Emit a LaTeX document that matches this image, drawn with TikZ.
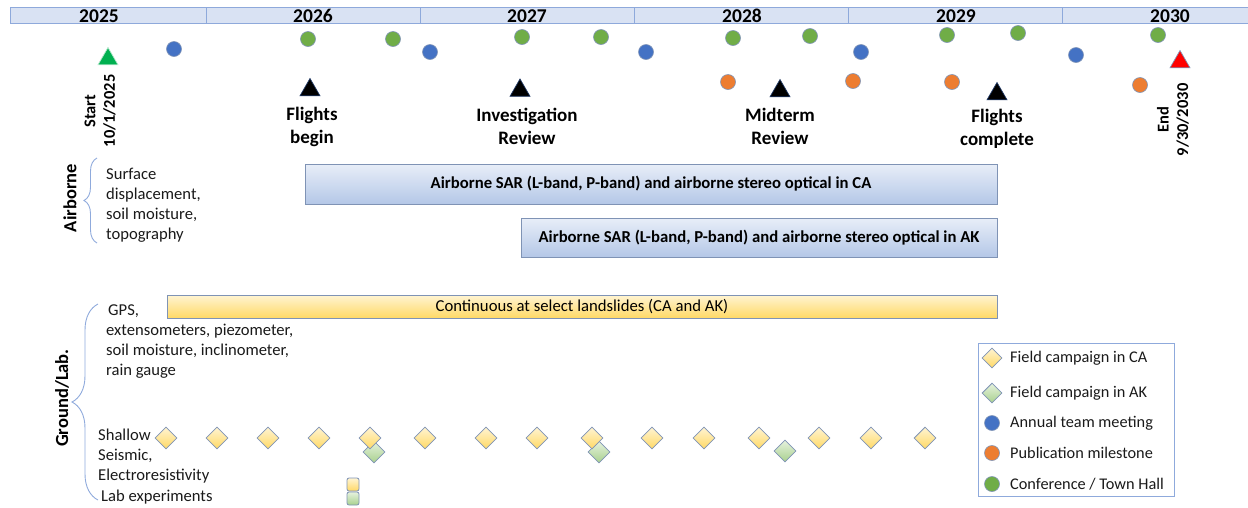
\documentclass[tikz,border=0pt]{standalone}
\usepackage{fontspec}
\setmainfont{Carlito}
\usetikzlibrary{shapes.geometric,decorations.pathreplacing}
\definecolor{yrfill}{HTML}{D9E2F3}
\definecolor{yrline}{HTML}{8EA9DB}
\definecolor{mblue}{HTML}{4472C4}
\definecolor{mgreen}{HTML}{70AD47}
\definecolor{morange}{HTML}{ED7D31}
\definecolor{tgreen}{HTML}{00B050}
\definecolor{tred}{HTML}{FF0000}
\definecolor{tline}{HTML}{1F3864}
\definecolor{mline}{HTML}{7F93B5}
\definecolor{abtop}{HTML}{E8EEF8}
\definecolor{abbot}{HTML}{B4C7E7}
\definecolor{ylwtop}{HTML}{FFF4D2}
\definecolor{ylwbot}{HTML}{FFD966}
\definecolor{grntop}{HTML}{E6F2DE}
\definecolor{grnbot}{HTML}{A9D18E}
\definecolor{brline}{HTML}{8FAADC}
\definecolor{txt}{HTML}{1A1A1A}
\begin{document}
\begin{tikzpicture}[x=1pt,y=-1pt,
  yearcell/.style={draw=yrline,fill=yrfill,line width=0.8pt,inner sep=0pt,minimum height=16pt},
  yearlbl/.style={font=\fontsize{19.5}{22}\selectfont\bfseries,inner sep=0pt},
  dot/.style={circle,minimum size=15pt,inner sep=0pt,draw=mline,line width=0.6pt},
  tri/.style={regular polygon,regular polygon sides=3,minimum size=23pt,inner sep=0pt,draw=tline,line width=0.7pt},
  mslbl/.style={font=\fontsize{19}{23}\selectfont\bfseries,align=center,inner sep=0pt},
  rotlbl/.style={font=\fontsize{16.5}{19.5}\selectfont\bfseries,align=center,inner sep=0pt,rotate=90},
  sidelbl/.style={font=\fontsize{18.5}{22}\selectfont\bfseries,inner sep=0pt,rotate=90},
  bodytxt/.style={font=\fontsize{16.6}{20}\selectfont,align=left,inner sep=0pt,text=txt},
  abar/.style={draw=mline,line width=0.8pt,top color=abtop,bottom color=abbot,inner sep=0pt,font=\fontsize{16.7}{18}\selectfont\bfseries},
  ybar/.style={draw=mline,line width=0.8pt,top color=ylwtop,bottom color=ylwbot,inner sep=0pt,font=\fontsize{16.7}{18}\selectfont},
  cadia/.style={diamond,minimum width=22pt,minimum height=22pt,inner sep=0pt,draw=mline,line width=0.8pt,top color=ylwtop,bottom color=ylwbot},
  akdia/.style={diamond,minimum width=22pt,minimum height=22pt,inner sep=0pt,draw=mline,line width=0.8pt,top color=grntop,bottom color=grnbot},
  labsq/.style={rectangle,rounded corners=2pt,minimum width=12pt,minimum height=13pt,inner sep=0pt,draw=mline,line width=0.8pt},
  brc/.style={draw=brline,line width=0.9pt,decorate},
  legtxt/.style={font=\fontsize{16.3}{19}\selectfont,anchor=west,inner sep=0pt,text=txt}
]
\useasboundingbox (0,0) rectangle (1248,507);

% year bar
\node[yearcell,minimum width=196pt] (c2025) at (108,15) {};
\node[yearcell,minimum width=214pt] (c2026) at (313,15) {};
\node[yearcell,minimum width=214pt] (c2027) at (527,15) {};
\node[yearcell,minimum width=214pt] (c2028) at (741,15) {};
\node[yearcell,minimum width=214pt] (c2029) at (955,15) {};
\node[yearcell,minimum width=186pt] (c2030) at (1155,15) {};
\node[yearlbl] (t2025) at (99,16) {2025};
\node[yearlbl] (t2026) at (313,16) {2026};
\node[yearlbl] (t2027) at (527,16) {2027};
\node[yearlbl] (t2028) at (742,16) {2028};
\node[yearlbl] (t2029) at (956,16) {2029};
\node[yearlbl] (t2030) at (1170,16) {2030};

% annual team meetings
\node[dot,fill=mblue] (b1) at (174,49) {};
\node[dot,fill=mblue] (b2) at (430,52) {};
\node[dot,fill=mblue] (b3) at (646,52) {};
\node[dot,fill=mblue] (b4) at (861,52) {};
\node[dot,fill=mblue] (b5) at (1076,55) {};
% conferences
\node[dot,fill=mgreen] (g1) at (308,39) {};
\node[dot,fill=mgreen] (g2) at (393,39) {};
\node[dot,fill=mgreen] (g3) at (522,37) {};
\node[dot,fill=mgreen] (g4) at (601,37) {};
\node[dot,fill=mgreen] (g5) at (733,38) {};
\node[dot,fill=mgreen] (g6) at (810,36) {};
\node[dot,fill=mgreen] (g7) at (947,35) {};
\node[dot,fill=mgreen] (g8) at (1018,33) {};
\node[dot,fill=mgreen] (g9) at (1158,35) {};
% publications
\node[dot,fill=morange] (o1) at (728,82) {};
\node[dot,fill=morange] (o2) at (853,81) {};
\node[dot,fill=morange] (o3) at (952,82) {};
\node[dot,fill=morange] (o4) at (1140,85) {};

% triangles
\node[tri,fill=tgreen,draw=white!70!tgreen] (start) at (108,59) {};
\node[tri,fill=tred,draw=mline] (end) at (1180,62) {};
\node[tri,fill=black] (m1) at (310,90) {};
\node[tri,fill=black] (m2) at (520,90.5) {};
\node[tri,fill=black] (m3) at (780,91) {};
\node[tri,fill=black] (m4) at (997,94) {};

\node[rotlbl] (startlbl) at (100,111) {Start\\10/1/2025};
\node[rotlbl] (endlbl) at (1173,120) {End\\9/30/2030};
\node[mslbl] (m1lbl) at (312,127) {Flights\\begin};
\node[mslbl] (m2lbl) at (527,126) {Investigation\\Review};
\node[mslbl] (m3lbl) at (780,126) {Midterm\\Review};
\node[mslbl] (m4lbl) at (997,129) {Flights\\complete};

% airborne section
\node[sidelbl] (airlbl) at (70,198) {Airborne};
\draw[brc,decoration={brace,amplitude=13pt}] (97,243) -- (97,158);
\node[bodytxt,anchor=west] (airtxt) at (106,205) {Surface\\displacement,\\soil moisture,\\topography};
\node[abar,minimum width=692pt,minimum height=40pt] (barca) at (651,184) {Airborne SAR (L-band, P-band) and airborne stereo optical in CA};
\node[abar,minimum width=476pt,minimum height=39pt] (barak) at (759,237.5) {Airborne SAR (L-band, P-band) and airborne stereo optical in AK};

% ground section
\node[sidelbl] (gndlbl) at (62,398) {Ground/Lab.};
\draw[brc,decoration={brace,amplitude=26pt}] (98,500) -- (98,304);
\node[ybar,minimum width=830pt,minimum height=23pt] (cont) at (582,306.5) {Continuous at select landslides (CA and AK)};
\node[bodytxt,anchor=west] (gpstxt) at (106,342) {\hspace{2pt}GPS,\\extensometers, piezometer,\\soil moisture, inclinometer,\\rain gauge};
\node[bodytxt,anchor=west] (shtxt) at (98,456) {Shallow\\Seismic,\\Electroresistivity};
\node[bodytxt,anchor=west] (labtxt) at (101,497) {Lab experiments};

% AK field campaigns (behind)
\node[akdia] (ak1) at (374,452) {};
\node[akdia] (ak2) at (599,452) {};
\node[akdia] (ak3) at (785,451) {};
% CA field campaigns
\foreach \x [count=\i] in {166,217,268,319,370,425,486,537,592,652,704,759,819,871,925}
  \node[cadia] (ca\i) at (\x,438) {};

% lab experiments
\node[labsq,top color=ylwtop,bottom color=ylwbot] (labca) at (353,484.5) {};
\node[labsq,top color=grntop,bottom color=grnbot] (labak) at (353,498.5) {};

% legend
\node[draw=brline,line width=0.9pt,minimum width=196pt,minimum height=153pt,inner sep=0pt] (legend) at (1076,419.5) {};
\node[cadia,minimum width=20pt,minimum height=20pt] (lgca) at (992,358) {};
\node[akdia,minimum width=20pt,minimum height=20pt] (lgak) at (992,393) {};
\node[dot,fill=mblue] (lgb) at (992,423) {};
\node[dot,fill=morange] (lgo) at (992,453) {};
\node[dot,fill=mgreen] (lgg) at (992,484) {};
\node[legtxt] (lgcat) at (1010,358) {Field campaign in CA};
\node[legtxt] (lgakt) at (1010,393) {Field campaign in AK};
\node[legtxt] (lgbt) at (1010,423) {Annual team meeting};
\node[legtxt] (lgot) at (1010,453) {Publication milestone};
\node[legtxt] (lggt) at (1010,484) {Conference / Town Hall};
\end{tikzpicture}
\end{document}
